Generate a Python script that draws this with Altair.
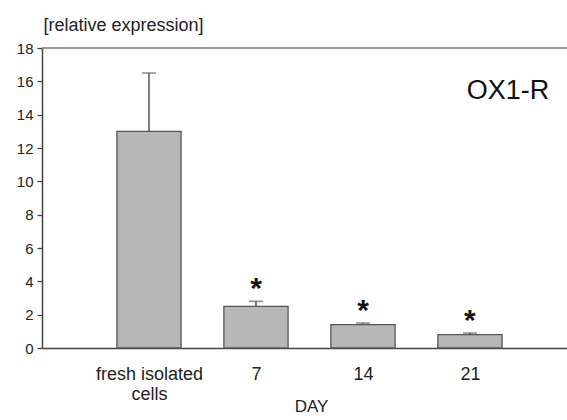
import altair as alt
import pandas as pd

categories = ["fresh isolated cells", "7", "14", "21"]
means = [13.0, 2.5, 1.4, 0.8]
errors = [3.5, 0.3, 0.1, 0.1]
signif = ["", "*", "*", "*"]
y_ticks = [0, 2, 4, 6, 8, 10, 12, 14, 16, 18]

df = pd.DataFrame({
    "cat": categories,
    "pos": list(range(1, len(categories) + 1)),
    "mean": means,
    "err": errors,
    "sig": signif,
})
df["top"] = df["mean"] + df["err"]
df["x0"] = df["pos"] - 0.3
df["x1"] = df["pos"] + 0.3

label_expr = (
    "datum.value == 1 ? ['fresh isolated', 'cells'] : "
    "datum.value == 2 ? '7' : datum.value == 3 ? '14' : datum.value == 4 ? '21' : ''"
)

xscale = alt.Scale(domain=[0, 4.907], nice=False, zero=False)
yscale = alt.Scale(domain=[0, 18], nice=False)
FONT = "Liberation Sans"

xaxis = alt.Axis(
    values=[1, 2, 3, 4], labelExpr=label_expr, ticks=False, grid=False,
    domainColor="#444444", domainWidth=1.5, labelFont=FONT, labelFontSize=18,
    labelColor="#222222", labelPadding=17, labelLineHeight=20, labelOverlap=False,
    title="DAY", titleFont=FONT, titleFontSize=17, titleFontWeight="normal",
    titleColor="#222222", titleX=269, titleY=63, titleBaseline="alphabetic",
    titleAlign="center")

yaxis = alt.Axis(
    values=y_ticks, grid=False, tickSize=5, tickColor="#444444", tickWidth=1.3,
    domainColor="#444444", domainWidth=1.5, labelFont=FONT, labelFontSize=15,
    labelColor="#222222", labelPadding=4, labelOverlap=False, labelBound=False,
    labelFlush=False,
    title="[relative expression]", titleFont=FONT, titleFontSize=18,
    titleFontWeight="normal", titleColor="#222222", titleAngle=0,
    titleAlign="left", titleBaseline="alphabetic", titleX=1, titleY=-18)

base = alt.Chart(df)

bars = base.mark_bar(fill="#b7b7b7", stroke="#555555", strokeWidth=1.3).encode(
    x=alt.X("x0:Q", scale=xscale, axis=xaxis),
    x2="x1:Q",
    y=alt.Y("mean:Q", scale=yscale, axis=yaxis),
    y2=alt.Y2(datum=0),
)

whisker = base.mark_rule(color="#555555", strokeWidth=1.5).encode(
    x=alt.X("pos:Q", scale=xscale, axis=xaxis),
    y=alt.Y("mean:Q", scale=yscale, axis=yaxis),
    y2="top:Q",
)

caps = base.mark_tick(color="#555555", orient="horizontal", size=14, thickness=1.5).encode(
    x=alt.X("pos:Q", scale=xscale, axis=xaxis),
    y=alt.Y("top:Q", scale=yscale, axis=yaxis),
)

stars = base.mark_text(font=FONT, fontSize=30, fontWeight="bold", color="#111111",
                       baseline="alphabetic", dy=-3).encode(
    x=alt.X("pos:Q", scale=xscale, axis=xaxis),
    y=alt.Y("top:Q", scale=yscale, axis=yaxis),
    text="sig:N",
)

# top frame line of the plot area
frame_top = alt.Chart(pd.DataFrame({"k": [0]})).mark_rule(
    color="#777777", strokeWidth=1.5
).encode(x=alt.value(0), x2=alt.value(525), y=alt.value(0))

label = alt.Chart(pd.DataFrame({"t": ["OX1-R"]})).mark_text(
    font=FONT, fontSize=27, color="#111111", align="center", baseline="alphabetic"
).encode(x=alt.value(466), y=alt.value(51), text="t:N")

chart = alt.layer(frame_top, bars, whisker, caps, stars, label).properties(
    width=525, height=300,
    autosize=alt.AutoSizeParams(type="none"),
    padding={"left": 42, "top": 48, "right": 0, "bottom": 68},
).configure_view(stroke=None)

chart.save("out.html", embed_options={"renderer": "svg", "actions": False})
